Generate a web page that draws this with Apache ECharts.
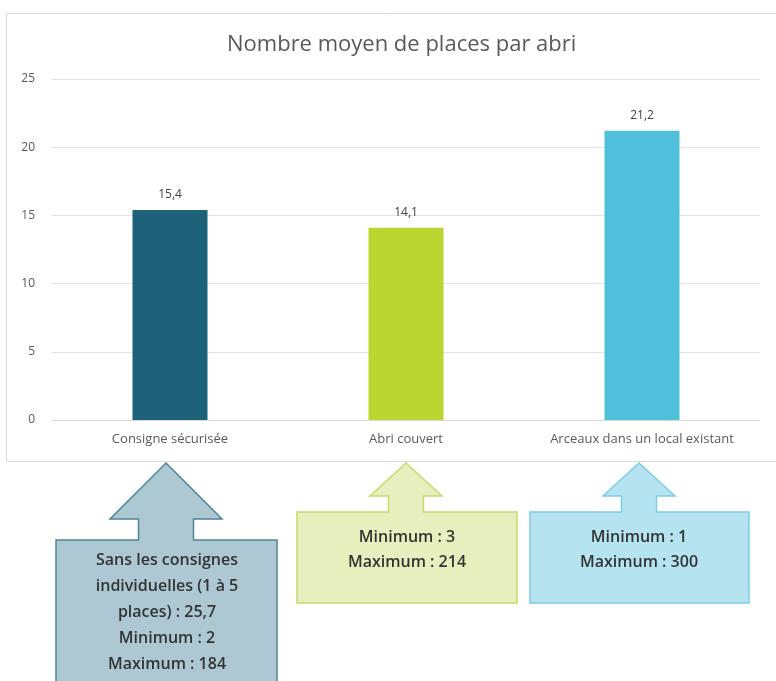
<!DOCTYPE html>
<html>
<head>
<meta charset="utf-8">
<script src="https://cdn.jsdelivr.net/npm/echarts@6/dist/echarts.min.js"></script>
<style>
  html, body { margin: 0; padding: 0; background: #fff; }
  #main { width: 776px; height: 681px; }
</style>
</head>
<body>
<div id="main"></div>
<script>
// données
var categories = ["Consigne sécurisée", "Abri couvert", "Arceaux dans un local existant"];
var moyennes = [15.4, 14.1, 21.2];
var couleurs = ["#1d6279", "#bcd631", "#4fbfdb"];
var encadres = [
  ["Sans les consignes", "individuelles (1 à 5", "places) : 25,7", "Minimum : 2", "Maximum : 184"],
  ["Minimum : 3", "Maximum : 214"],
  ["Minimum : 1", "Maximum : 300"]
];

var font = "'Open Sans', 'Noto Sans', sans-serif";

// flèche + boîte (annotation)
function fleche(cx, apexY, headY, headW, stemW, boxX, boxY, boxW, boxH, fill, stroke) {
  var pts = [
    [cx, apexY],
    [cx + headW / 2, headY],
    [cx + stemW / 2, headY],
    [cx + stemW / 2, boxY],
    [boxX + boxW, boxY],
    [boxX + boxW, boxY + boxH],
    [boxX, boxY + boxH],
    [boxX, boxY],
    [cx - stemW / 2, boxY],
    [cx - stemW / 2, headY],
    [cx - headW / 2, headY]
  ];
  return {
    type: "polygon",
    shape: { points: pts },
    style: { fill: fill, stroke: stroke, lineWidth: 1.5 }
  };
}

function texte(cx, y0, dy, lignes) {
  return lignes.map(function (l, i) {
    return {
      type: "text",
      x: cx, y: y0 + i * dy,
      style: {
        text: l, fill: "#333", font: "600 16px " + font,
        textAlign: "center", textVerticalAlign: "middle"
      }
    };
  });
}

var graphics = [
  { type: "rect", shape: { x: 6.5, y: 13.5, width: 780, height: 448 },
    style: { fill: "none", stroke: "#d9d9d9", lineWidth: 1 }, z: -1 },
  fleche(166, 463, 519, 112, 55, 56, 540, 221, 160, "#adc8d3", "#4f8599"),
  fleche(406, 463, 496, 72, 35, 297, 512, 220, 91, "#e6efbd", "#c6db6a"),
  fleche(639, 463, 496, 72, 35, 530, 512, 219, 91, "#b5e3ef", "#7dcde3")
].concat(texte(167, 560, 26, encadres[0]))
 .concat(texte(407, 537, 25, encadres[1]))
 .concat(texte(639, 537, 25, encadres[2]));

var chart = echarts.init(document.getElementById("main"));
chart.setOption({
  animation: false,
  title: {
    text: "Nombre moyen de places par abri",
    left: 222, top: 29,
    textStyle: { color: "#595959", fontSize: 22, fontWeight: "normal", fontFamily: font }
  },
  grid: { left: 52, right: 16, top: 79, bottom: 261 },
  xAxis: {
    type: "category",
    data: categories,
    axisLine: { lineStyle: { color: "#d9d9d9" } },
    axisTick: { show: false },
    axisLabel: { color: "#595959", fontSize: 13, fontFamily: font, margin: 13, interval: 0, hideOverlap: false }
  },
  yAxis: {
    type: "value",
    min: 0, max: 25, interval: 5,
    axisLine: { show: false },
    axisTick: { show: false },
    splitLine: { lineStyle: { color: "#e3e3e3" } },
    axisLabel: { color: "#595959", fontSize: 12, fontFamily: font, margin: 17 }
  },
  series: [{
    type: "bar",
    barWidth: 75,
    data: moyennes.map(function (v, i) {
      return { value: v, itemStyle: { color: couleurs[i] } };
    }),
    label: {
      show: true, position: "top", distance: 9,
      color: "#404040", fontSize: 12, fontFamily: font,
      formatter: function (p) { return String(p.value).replace(".", ","); }
    }
  }],
  graphic: graphics
});
</script>
</body>
</html>
